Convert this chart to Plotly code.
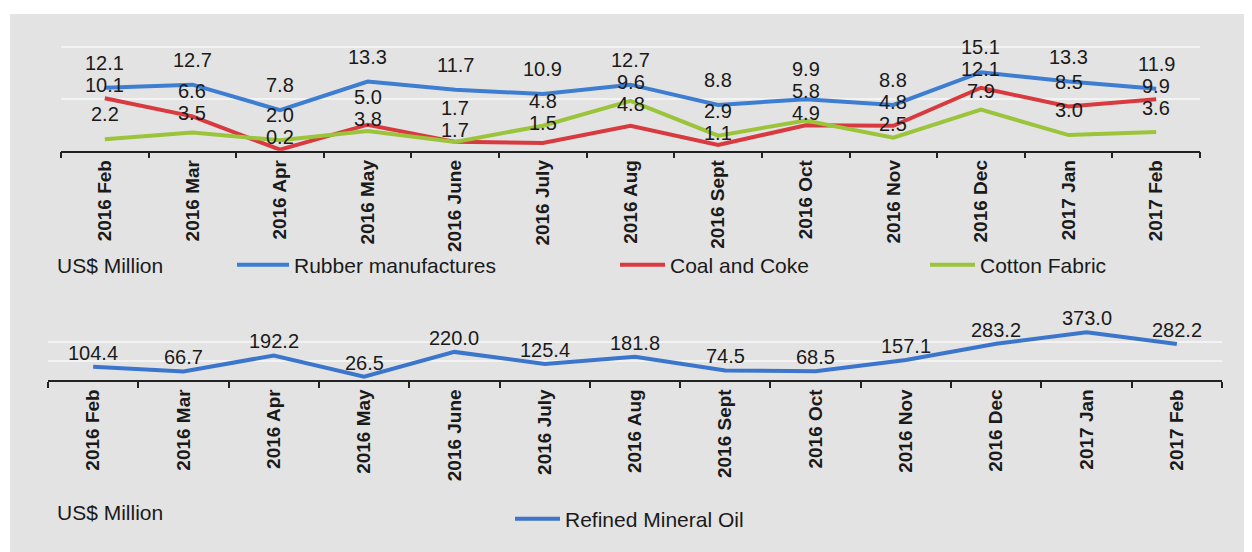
import plotly.graph_objects as go

months = ["2016 Feb", "2016 Mar", "2016 Apr", "2016 May", "2016 June", "2016 July",
          "2016 Aug", "2016 Sept", "2016 Oct", "2016 Nov", "2016 Dec", "2017 Jan", "2017 Feb"]
rubber = [12.1, 12.7, 7.8, 13.3, 11.7, 10.9, 12.7, 8.8, 9.9, 8.8, 15.1, 13.3, 11.9]
coal = [10.1, 6.6, 0.2, 5.0, 1.7, 1.5, 4.8, 1.1, 4.9, 4.8, 12.1, 8.5, 9.9]
cotton = [2.2, 3.5, 2.0, 3.8, 1.7, 4.8, 9.6, 2.9, 5.8, 2.5, 7.9, 3.0, 3.6]
oil = [104.4, 66.7, 192.2, 26.5, 220.0, 125.4, 181.8, 74.5, 68.5, 157.1, 283.2, 373.0, 282.2]

# page body has an 8px margin: build the figure 8px smaller and shift coordinates
OFF = 8
W, H = 1252 - OFF, 552 - OFF
FONT = "Liberation Sans, Arial, sans-serif"
TXT = "#1a1a1a"
BLUE = "#3d7dd2"
RED = "#d83a3f"
GREEN = "#9bc43b"
BLUE2 = "#3b76cc"

PXU = 5.2          # top panel: pixels per unit
LABEL_UP = 25      # nominal label lift above its point (px)
LABEL_GAP = 22     # minimum vertical gap between stacked labels (px)
LABEL_MIN = 12     # label never lower than this above its point (px)


def px_x(p):
    return (p - OFF) / W


def px_y(p):
    return 1 - (p - OFF) / H


fig = go.Figure()

top_series = [
    ("Rubber manufactures", rubber, BLUE, "legend"),
    ("Coal and Coke", coal, RED, "legend2"),
    ("Cotton Fabric", cotton, GREEN, "legend3"),
]
for name, vals, col, leg in top_series:
    fig.add_trace(go.Scatter(x=months, y=vals, mode="lines", name=name,
                             line=dict(color=col, width=4), xaxis="x", yaxis="y",
                             legend=leg))

fig.add_trace(go.Scatter(x=months, y=oil, mode="lines", name="Refined Mineral Oil",
                         line=dict(color=BLUE2, width=4), xaxis="x2", yaxis="y2",
                         legend="legend4"))

annotations = []
# stack the three labels of each month so that they do not sit on each other
for i, m in enumerate(months):
    vals = [s[1][i] for s in top_series]
    order = sorted(range(len(vals)), key=lambda k: -vals[k])
    pos = {}
    prev = float("inf")
    for k in order:
        y = min(vals[k] * PXU + LABEL_UP, prev - LABEL_GAP)
        pos[k] = y
        prev = y
    prev = -float("inf")
    for k in reversed(order):
        y = max(pos[k], vals[k] * PXU + LABEL_MIN, prev + LABEL_GAP)
        pos[k] = y
        prev = y
    for k in range(len(vals)):
        annotations.append(dict(x=m, y=vals[k], xref="x", yref="y", text=f"{vals[k]:.1f}",
                                showarrow=False, yshift=pos[k] - vals[k] * PXU,
                                yanchor="middle",
                                font=dict(family=FONT, size=20, color=TXT)))
for m, v in zip(months, oil):
    annotations.append(dict(x=m, y=v, xref="x2", yref="y2", text=f"{v:.1f}",
                            showarrow=False, yshift=14, yanchor="middle",
                            font=dict(family=FONT, size=20, color=TXT)))

for yy in (265, 512):
    annotations.append(dict(x=px_x(55), y=px_y(yy), xref="paper", yref="paper",
                            text="US$ Million", showarrow=False, xanchor="left",
                            yanchor="middle", font=dict(family=FONT, size=21, color=TXT)))

xcommon = dict(type="category", tickson="boundaries", ticks="outside", ticklen=6,
               tickcolor="#222", tickwidth=1.5, showline=True, linecolor="#222", linewidth=1.5,
               tickangle=-90, showgrid=False, zeroline=False, range=[-0.5, 12.5],
               tickfont=dict(family=FONT, size=19, color=TXT, weight="bold"))
ycommon = dict(showticklabels=False, gridcolor="#f3f3f3", gridwidth=1.5, zeroline=False,
               showline=False, ticks="")

leg_common = dict(orientation="h", bgcolor="rgba(0,0,0,0)", yanchor="middle", xanchor="left",
                  font=dict(family=FONT, size=21, color=TXT))

# top panel: 0 at y=150.7px, 20 at y=46.7px
top_max = 20.6
fig.update_layout(
    width=W, height=H,
    margin=dict(l=0, r=0, t=0, b=0),
    paper_bgcolor="white",
    plot_bgcolor="rgba(0,0,0,0)",
    xaxis=dict(domain=[px_x(61), px_x(1200)], anchor="y", **xcommon),
    yaxis=dict(domain=[px_y(150.7), px_y(150.7 - PXU * top_max)], range=[0, top_max],
               dtick=10, **ycommon),
    xaxis2=dict(domain=[px_x(48), px_x(1222)], anchor="y2", **xcommon),
    yaxis2=dict(domain=[px_y(380), px_y(328.9)], range=[0, 400], dtick=150, **ycommon),
    legend=dict(x=px_x(232), y=px_y(265), itemwidth=52, **leg_common),
    legend2=dict(x=px_x(615), y=px_y(265), itemwidth=45, **leg_common),
    legend3=dict(x=px_x(925), y=px_y(265), itemwidth=45, **leg_common),
    legend4=dict(x=px_x(510), y=px_y(519), itemwidth=45, **leg_common),
    annotations=annotations,
    shapes=[dict(type="rect", xref="paper", yref="paper", x0=px_x(10), x1=1, y0=0,
                 y1=px_y(14), fillcolor="#e3e3e3", line=dict(width=0), layer="below")],
    showlegend=True,
)

fig.write_html("out.html")
